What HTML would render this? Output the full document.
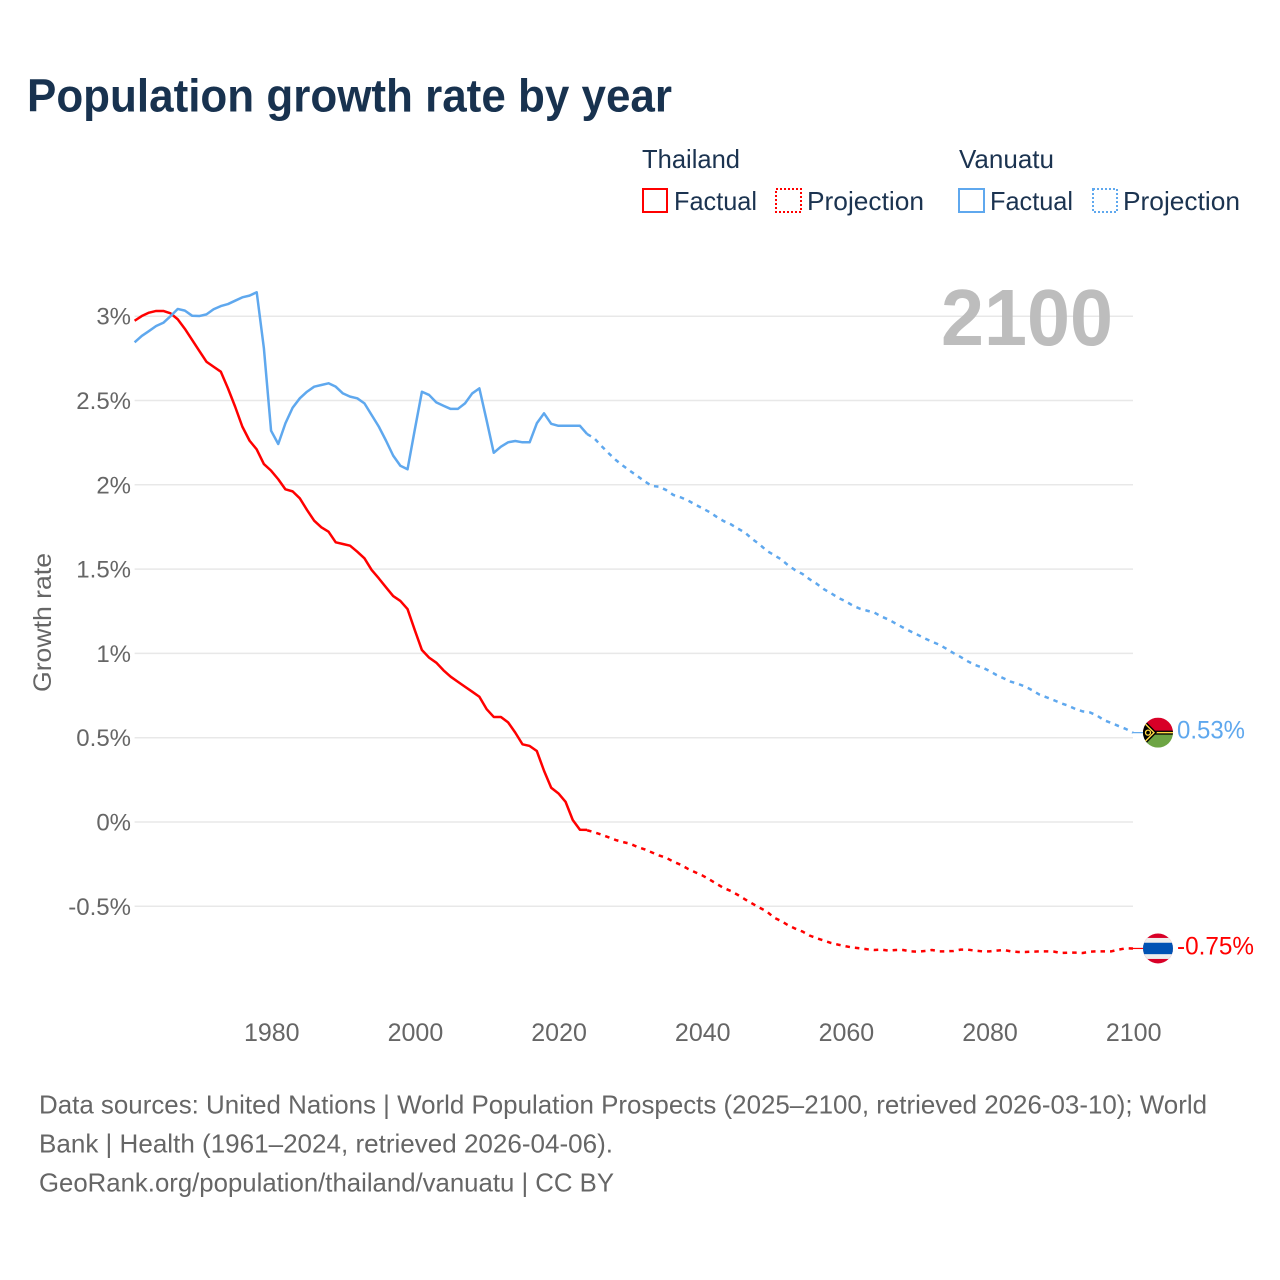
<!DOCTYPE html>
<html lang="en">
<head>
<meta charset="utf-8">
<title>Population growth rate by year</title>
<style>
html,body{margin:0;padding:0;background:#fff;}
svg{display:block;font-family:"Liberation Sans",sans-serif;}
</style>
</head>
<body>
<svg id="chart" xmlns="http://www.w3.org/2000/svg" width="1280" height="1280" viewBox="0 0 1280 1280">
  <defs>
    <clipPath id="flag-clip"><circle cx="0" cy="0" r="15"/></clipPath>
  </defs>
  <rect width="1280" height="1280" fill="#fff"/>
  <text x="27" y="111.5" font-size="46" font-weight="700" fill="#18324f" textLength="645" lengthAdjust="spacingAndGlyphs">Population growth rate by year</text>

  <g font-size="26" fill="#1b3350">
    <text x="642" y="168" textLength="98" lengthAdjust="spacingAndGlyphs">Thailand</text>
    <rect x="643" y="189" width="24" height="23" fill="none" stroke="#ff0000" stroke-width="2"/>
    <text x="674" y="210" textLength="83" lengthAdjust="spacingAndGlyphs">Factual</text>
    <rect x="776" y="189" width="25" height="23" fill="none" stroke="#ff0000" stroke-width="2" stroke-dasharray="2 2"/>
    <text x="807" y="210" textLength="117" lengthAdjust="spacingAndGlyphs">Projection</text>
    <text x="959" y="168" textLength="95" lengthAdjust="spacingAndGlyphs">Vanuatu</text>
    <rect x="959" y="189" width="25" height="23" fill="none" stroke="#5fa8ee" stroke-width="2"/>
    <text x="990" y="210" textLength="83" lengthAdjust="spacingAndGlyphs">Factual</text>
    <rect x="1093" y="189" width="24" height="23" fill="none" stroke="#5fa8ee" stroke-width="2" stroke-dasharray="2 2"/>
    <text x="1123" y="210" textLength="117" lengthAdjust="spacingAndGlyphs">Projection</text>
  </g>

  <g id="grid"></g>
  <g id="ytick-labels"></g>
  <g id="xtick-labels"></g>
  <text transform="translate(51,622.5) rotate(-90)" text-anchor="middle" font-size="25" fill="#666" textLength="139" lengthAdjust="spacingAndGlyphs">Growth rate</text>
  <text x="941" y="345" font-size="80" font-weight="700" fill="#bdbdbd" textLength="172" lengthAdjust="spacingAndGlyphs">2100</text>

  <g id="series"></g>

  <g id="flag-vanuatu">
    <g clip-path="url(#flag-clip)">
      <rect x="-15" y="-15" width="30" height="15" fill="#d80027"/>
      <rect x="-15" y="0" width="30" height="15" fill="#6da544"/>
      <rect x="-15" y="-2" width="30" height="4" fill="#000"/>
      <rect x="-15" y="-0.7" width="30" height="1.4" fill="#ffda44"/>
      <polygon points="-17,-16 -1,0 -17,16" fill="#000"/>
      <polyline points="-15,-11 -4,0 -15,11" fill="none" stroke="#ffda44" stroke-width="1.4"/>
      <circle cx="-10" cy="0" r="2.5" fill="none" stroke="#ffda44" stroke-width="1.3"/>
    </g>
  </g>
  <g id="flag-thailand">
    <g clip-path="url(#flag-clip)">
      <rect x="-15" y="-15" width="30" height="30" fill="#d80027"/>
      <rect x="-15" y="-10.5" width="30" height="21" fill="#eeeeee"/>
      <rect x="-15" y="-5.7" width="30" height="11.4" fill="#0052b4"/>
    </g>
  </g>
  <text id="end-label-vanuatu" x="1177" font-size="25" fill="#5fa8ee" textLength="68" lengthAdjust="spacingAndGlyphs"></text>
  <text id="end-label-thailand" x="1177" font-size="25" fill="#ff0000" textLength="77" lengthAdjust="spacingAndGlyphs"></text>

  <g font-size="26" fill="#666">
    <text x="39" y="1113.5" textLength="1168" lengthAdjust="spacingAndGlyphs">Data sources: United Nations | World Population Prospects (2025–2100, retrieved 2026-03-10); World</text>
    <text x="39" y="1152.5" textLength="574" lengthAdjust="spacingAndGlyphs">Bank | Health (1961–2024, retrieved 2026-04-06).</text>
    <text x="39" y="1191.5" textLength="575" lengthAdjust="spacingAndGlyphs">GeoRank.org/population/thailand/vanuatu | CC BY</text>
  </g>
</svg>
<script>
const factualStartYear = 1961;
const projectionStartYear = 2024;
const thailandFactual = [
  2.973,3.001,3.021,3.031,3.031,3.017,2.982,2.925,2.860,2.795,
  2.730,2.700,2.671,2.572,2.463,2.345,2.262,2.210,2.123,2.084,
  2.033,1.973,1.961,1.920,1.851,1.787,1.748,1.722,1.659,1.649,
  1.639,1.603,1.564,1.495,1.445,1.392,1.340,1.311,1.263,1.139,
  1.020,0.975,0.945,0.900,0.862,0.832,0.802,0.773,0.743,0.670,
  0.623,0.623,0.591,0.530,0.461,0.451,0.421,0.304,0.203,0.170,
  0.120,0.012,-0.046,-0.047];
const vanuatuFactual = [
  2.845,2.883,2.912,2.942,2.961,3.000,3.043,3.033,3.003,3.001,
  3.011,3.041,3.060,3.072,3.092,3.112,3.122,3.142,2.810,2.321,
  2.242,2.365,2.457,2.513,2.552,2.582,2.592,2.602,2.582,2.542,
  2.523,2.513,2.483,2.414,2.345,2.262,2.173,2.113,2.092,2.325,
  2.552,2.533,2.489,2.469,2.450,2.450,2.483,2.542,2.572,2.384,
  2.190,2.226,2.252,2.260,2.252,2.252,2.365,2.424,2.362,2.350,
  2.350,2.350,2.350,2.301];
const thailandProjection = [
  -0.049,-0.061,-0.075,-0.091,-0.107,-0.119,-0.129,-0.148,-0.162,-0.180,
  -0.198,-0.212,-0.235,-0.253,-0.277,-0.297,-0.316,-0.340,-0.366,-0.391,
  -0.409,-0.433,-0.459,-0.484,-0.508,-0.530,-0.567,-0.587,-0.613,-0.633,
  -0.650,-0.674,-0.690,-0.704,-0.718,-0.728,-0.737,-0.745,-0.749,-0.755,
  -0.759,-0.757,-0.763,-0.759,-0.759,-0.767,-0.769,-0.765,-0.759,-0.767,
  -0.767,-0.765,-0.757,-0.757,-0.763,-0.767,-0.767,-0.763,-0.759,-0.767,
  -0.771,-0.771,-0.769,-0.767,-0.767,-0.769,-0.777,-0.775,-0.775,-0.777,
  -0.769,-0.767,-0.767,-0.767,-0.757,-0.749,-0.750];
const vanuatuProjection = [
  2.301,2.276,2.230,2.187,2.147,2.113,2.082,2.052,2.021,1.993,
  1.989,1.969,1.940,1.926,1.908,1.884,1.862,1.839,1.811,1.785,
  1.766,1.740,1.716,1.678,1.647,1.609,1.584,1.558,1.522,1.493,
  1.471,1.439,1.412,1.380,1.356,1.329,1.309,1.283,1.265,1.253,
  1.242,1.218,1.200,1.176,1.153,1.131,1.111,1.089,1.070,1.052,
  1.028,1.002,0.979,0.953,0.931,0.917,0.896,0.872,0.852,0.832,
  0.819,0.803,0.781,0.755,0.739,0.722,0.704,0.690,0.670,0.656,
  0.650,0.631,0.603,0.587,0.569,0.552,0.530];
const yTickValues = [-0.5,0,0.5,1,1.5,2,2.5,3];
const yTickLabels = ["-0.5%","0%","0.5%","1%","1.5%","2%","2.5%","3%"];
const xTickYears = [1980,2000,2020,2040,2060,2080,2100];
const xTickLabels = ["1980","2000","2020","2040","2060","2080","2100"];

const NS = "http://www.w3.org/2000/svg";
const plotLeft = 134.6, plotRight = 1133, yearMin = 1961, yearMax = 2100;
const zeroY = 822, pxPerPercent = 168.6;
function xScale(year){ return plotLeft + (year - yearMin) * (plotRight - plotLeft) / (yearMax - yearMin); }
function yScale(value){ return zeroY - value * pxPerPercent; }
function pathFrom(values, startYear){
  return values.map(function(v,i){
    return (i ? "L" : "M") + xScale(startYear + i).toFixed(2) + " " + yScale(v).toFixed(2);
  }).join("");
}
const grid = document.getElementById("grid");
const yLabels = document.getElementById("ytick-labels");
const xLabels = document.getElementById("xtick-labels");
const seriesGroup = document.getElementById("series");

yTickValues.forEach(function(v,i){
  const line = document.createElementNS(NS,"line");
  
  
  line.setAttribute("x1", plotLeft);
  line.setAttribute("x2", plotRight);
  line.setAttribute("y1", yScale(v));
  line.setAttribute("y2", yScale(v));
  line.setAttribute("stroke", "#e8e8e8");
  line.setAttribute("stroke-width", "1.5");
  grid.appendChild(line);
  const t = document.createElementNS(NS,"text");
  
  
  t.setAttribute("x", 131);
  t.setAttribute("y", yScale(v) + 8.5);
  t.setAttribute("text-anchor", "end");
  t.setAttribute("font-size", "24");
  t.setAttribute("fill", "#666");
  t.textContent = yTickLabels[i];
  yLabels.appendChild(t);
});
xTickYears.forEach(function(year,i){
  const t = document.createElementNS(NS,"text");
  
  
  t.setAttribute("x", xScale(year) + 0.7);
  t.setAttribute("y", 1041);
  t.setAttribute("text-anchor", "middle");
  t.setAttribute("font-size", "25");
  t.setAttribute("fill", "#666");
  t.textContent = xTickLabels[i];
  xLabels.appendChild(t);
});

function addLine(values, startYear, color, dashed, name){
  const p = document.createElementNS(NS,"path");
  
  
  p.setAttribute("d", pathFrom(values, startYear));
  p.setAttribute("fill", "none");
  p.setAttribute("stroke", color);
  p.setAttribute("stroke-width", "2.5");
  p.setAttribute("stroke-linejoin", "round");
  if (dashed) p.setAttribute("stroke-dasharray", "4.5 5");
  seriesGroup.appendChild(p);
}
const blue = "#5fa8ee", red = "#ff0000";
addLine(vanuatuProjection, projectionStartYear, blue, true, "vanuatu-projection-line");
addLine(thailandProjection, projectionStartYear, red, true, "thailand-projection-line");
addLine(thailandFactual, factualStartYear, red, false, "thailand-factual-line");
addLine(vanuatuFactual, factualStartYear, blue, false, "vanuatu-factual-line");

function addEnd(values, color, flagId, labelId, connectorName){
  const last = values[values.length - 1];
  const yy = yScale(last);
  const c = document.createElementNS(NS,"line");
  
  
  c.setAttribute("x1", plotRight);
  c.setAttribute("x2", plotRight + 10);
  c.setAttribute("y1", yy);
  c.setAttribute("y2", yy);
  c.setAttribute("stroke", color);
  c.setAttribute("stroke-width", "1.2");
  seriesGroup.appendChild(c);
  document.getElementById(flagId).setAttribute("transform", "translate(1158," + yy + ")");
  const lab = document.getElementById(labelId);
  lab.setAttribute("y", yy + 6);
  lab.textContent = last.toFixed(2) + "%";
}
addEnd(vanuatuProjection, blue, "flag-vanuatu", "end-label-vanuatu", "vanuatu-end-connector");
addEnd(thailandProjection, red, "flag-thailand", "end-label-thailand", "thailand-end-connector");
</script>
</body>
</html>
